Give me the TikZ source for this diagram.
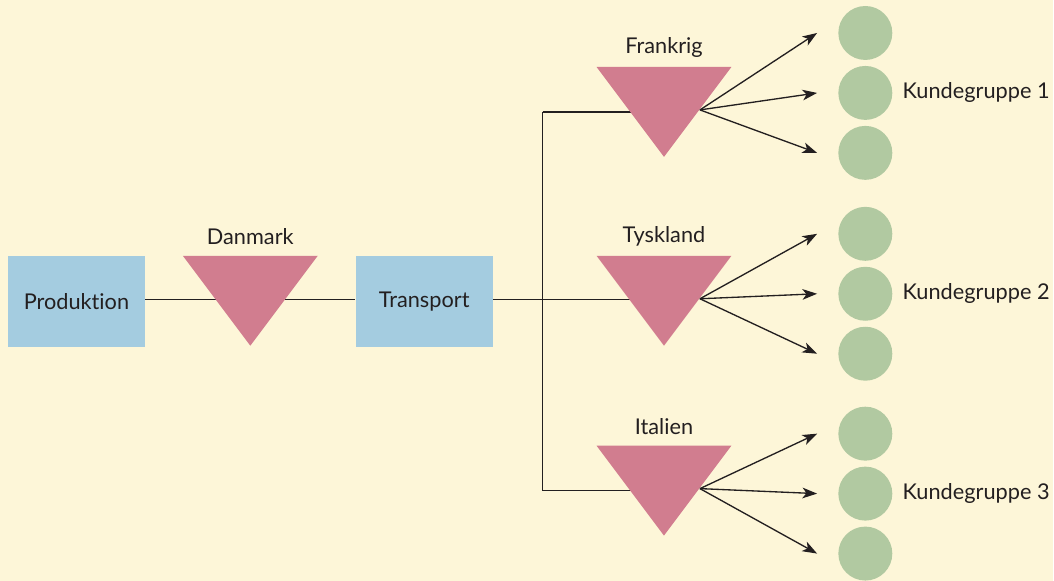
\documentclass[tikz,border=0pt]{standalone}
\usepackage{fontspec}
\setmainfont{Lato}[Ligatures=NoCommon]
\usetikzlibrary{arrows.meta,positioning}
\definecolor{paper}{HTML}{FDF6D8}
\definecolor{boxblue}{HTML}{A4CCE0}
\definecolor{tripink}{HTML}{D17D8F}
\definecolor{kundegreen}{HTML}{B1C9A1}
\definecolor{ink}{HTML}{231F20}

\begin{document}
\begin{tikzpicture}[x=0.75pt,y=-0.75pt,font=\fontsize{16.3}{19}\selectfont,
  box/.style={fill=boxblue,text=ink,minimum width=102.75pt,minimum height=68.25pt},
  kunde/.style={circle,fill=kundegreen,minimum size=40.5pt,inner sep=0pt},
  lbl/.style={text=ink},
  conn/.style={draw=ink,line width=1pt},
  arr/.style={conn,-{Stealth[length=11pt,width=8pt,inset=3pt]}}]
\fill[paper] (0,0) rectangle (1054,581);

% boxes and junction
\node[box] (prod) at (76.5,301.5) {Produktion};
\node[box] (trans) at (424.5,301.5) {Transport};
\coordinate (j) at (543,299.5);

% countries: name/label/x/top
\foreach \name/\land/\cx/\ty in {dk/Danmark/250.5/256, fr/Frankrig/664.5/67, de/Tyskland/664.5/256, it/Italien/664.5/446} {
  \coordinate (\name) at (\cx,\ty+45);
  \coordinate (\name-out) at (\cx+36,\ty+43);
}

% customer groups
\foreach \g/\cy in {1/93, 2/294, 3/494} {
  \node[kunde] (k\g a) at (866,\cy-60) {};
  \node[kunde] (k\g b) at (866,\cy) {};
  \node[kunde] (k\g c) at (866,\cy+60) {};
  \node[lbl,right=4pt of k\g b] (k\g-lbl) {Kundegruppe \g};
}

% lines behind the triangles
\draw[conn] (prod.east |- j) -- (trans.west |- j);
\draw[conn] (trans.east |- j) -- (j);
\draw[conn] (j |- fr) -- (j |- it);
\draw[conn] (j |- fr) -- (fr);
\draw[conn] (j) -- (de |- j);
\draw[conn] (j |- it) -- (it);

% triangles
\foreach \name/\land/\cx/\ty in {dk/Danmark/250.5/256, fr/Frankrig/664.5/67, de/Tyskland/664.5/256, it/Italien/664.5/446} {
  \fill[tripink] (\cx-67.5,\ty) -- ++(135,0) -- ++(-67.5,90) -- cycle;
  \node[lbl] (\name-lbl) at (\cx,\ty-19) {\land};
}

% arrows to the customers
\foreach \name/\g in {fr/1, de/2, it/3} {
  \draw[arr] (\name-out) -- ([xshift=-15.75pt]k\g a.west);
  \draw[arr] (\name-out) -- ([xshift=-15.75pt]k\g b.west);
  \draw[arr] (\name-out) -- ([xshift=-15.75pt]k\g c.west);
}
\end{tikzpicture}
\end{document}
